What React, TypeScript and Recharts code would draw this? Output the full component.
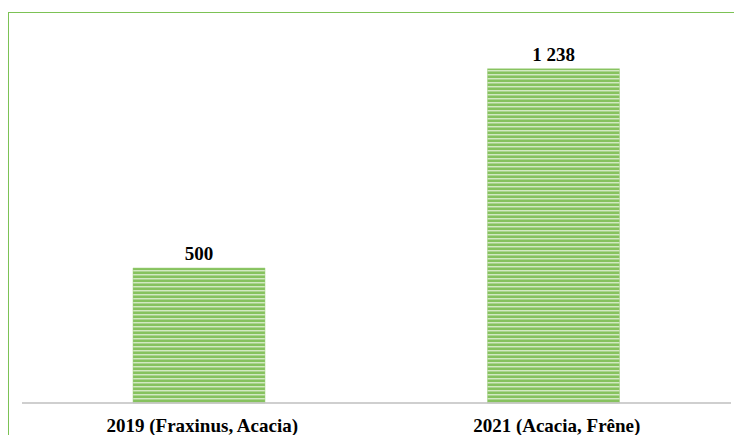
import React from "react";
import { BarChart, Bar, XAxis, YAxis, LabelList } from "recharts";

const categories = ["2019 (Fraxinus, Acacia)", "2021 (Acacia, Frêne)"];
const values = [500, 1238];

const data = categories.map((name, i) => ({ name, value: values[i] }));

const fmt = (v: number) => String(v).replace(/\B(?=(\d{3})+(?!\d))/g, " ");

const FONT = "'Liberation Serif', 'Times New Roman', serif";

const Tick = (props: any) => {
  const { x, y, payload } = props;
  return (
    <text
      x={x + 3}
      y={y + 29}
      textAnchor="middle"
      fontFamily={FONT}
      fontWeight="bold"
      fontSize={19}
      fill="#000"
    >
      {payload.value}
    </text>
  );
};

export default function App() {
  return (
    <div style={{ position: "relative", width: 734, height: 427 }}>
      <div
        style={{
          position: "absolute",
          left: 0,
          top: 4,
          right: 0,
          bottom: 0,
          borderTop: "1.5px solid #7cc255",
          borderLeft: "1.5px solid #7cc255",
        }}
      />
      <div style={{ position: "absolute", left: 0, top: 0 }}>
        <BarChart
          width={734}
          height={427}
          data={data}
          margin={{ top: 17, right: 11, left: 14, bottom: 0 }}
        >
          <defs>
            <pattern id="stripes" width="8" height="4" patternUnits="userSpaceOnUse">
              <rect x="0" y="0" width="8" height="4" fill="#86c25e" />
              <rect x="0" y="2" width="8" height="1" fill="#d2e9c2" />
              <rect x="0" y="3" width="8" height="1" fill="#a9d38d" />
            </pattern>
          </defs>
          <XAxis
            dataKey="name"
            height={32}
            tickSize={0}
            tickMargin={0}
            tick={<Tick />}
            axisLine={{ stroke: "#bfbfbf", strokeWidth: 1.5 }}
            tickLine={false}
          />
          <YAxis hide domain={[0, 1400]} />
          <Bar
            dataKey="value"
            fill="url(#stripes)"
            stroke="#9ccc7c"
            strokeWidth={0.5}
            barSize={132}
            isAnimationActive={false}
          >
            <LabelList
              dataKey="value"
              position="top"
              offset={8}
              formatter={(v: any) => fmt(Number(v))}
              style={{ fontFamily: FONT, fontWeight: "bold", fontSize: 19, fill: "#000" }}
            />
          </Bar>
        </BarChart>
      </div>
    </div>
  );
}
